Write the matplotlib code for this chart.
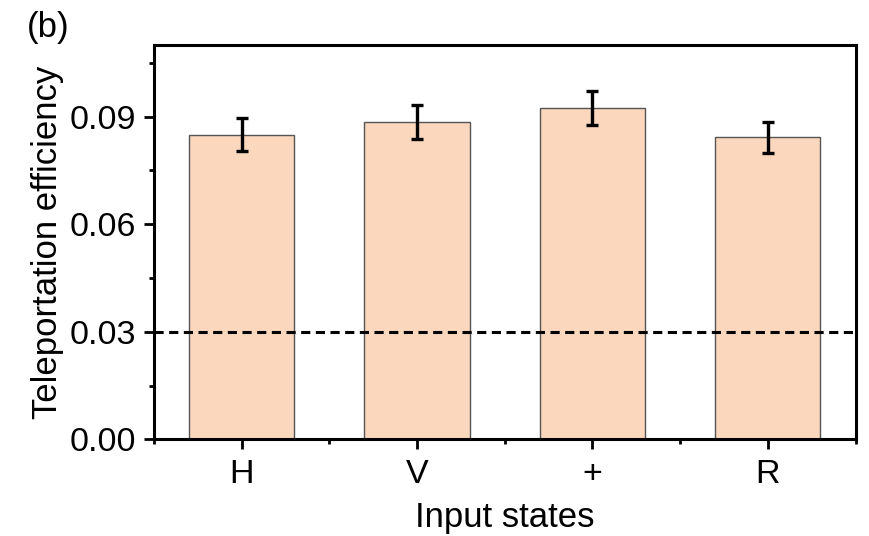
import matplotlib
matplotlib.use("Agg")
import matplotlib.pyplot as plt
from matplotlib.ticker import MultipleLocator, FixedLocator

categories = ["H", "V", "+", "R"]
values = [0.0850, 0.0885, 0.0925, 0.0842]
errors = [0.0046, 0.0047, 0.0048, 0.0042]
threshold = 0.03

plt.rcParams['font.family'] = ['Liberation Sans', 'DejaVu Sans']

fig = plt.figure(figsize=(8.69, 5.36), dpi=100)
ax = fig.add_axes([154/869, 1-439.3/536, (855.5-154)/869, (439.3-45)/536])

x = list(range(len(categories)))
ax.bar(x, values, width=0.6, color="#FAD7BD", edgecolor="#555555", linewidth=1.0, zorder=2)
ax.errorbar(x, values, yerr=errors, fmt="none", ecolor="black", elinewidth=2.4,
            capsize=4, capthick=2.4, zorder=4)
ax.axhline(threshold, color="black", linewidth=2.2, linestyle=(0, (3.0, 1.8)), zorder=3)

ax.set_xlim(-0.5, 3.5)
ax.set_ylim(0, 0.11)
ax.set_xticks(x)
ax.set_xticklabels(categories)
ax.xaxis.set_minor_locator(FixedLocator([-0.5, 0.5, 1.5, 2.5, 3.5]))
ax.yaxis.set_major_locator(MultipleLocator(0.03))
ax.yaxis.set_minor_locator(MultipleLocator(0.015))
ax.set_yticklabels([f"{v:.2f}" for v in ax.get_yticks()])

for s in ax.spines.values():
    s.set_linewidth(2.2)
ax.tick_params(axis="both", which="major", direction="out", length=7.2, width=2.0,
               labelsize=24.5)
ax.tick_params(axis="y", which="major", pad=5.5)
ax.tick_params(axis="x", which="major", pad=7)
ax.tick_params(axis="both", which="minor", direction="out", length=3.5, width=2.0)

ax.set_xlabel("Input states", fontsize=25, labelpad=8)
ax.set_ylabel("Teleportation efficiency", fontsize=25, labelpad=4)
fig.text(27/869, 1-27/536, "(b)", fontsize=25, ha="left", va="center")

fig.savefig("out.png", dpi=100)
